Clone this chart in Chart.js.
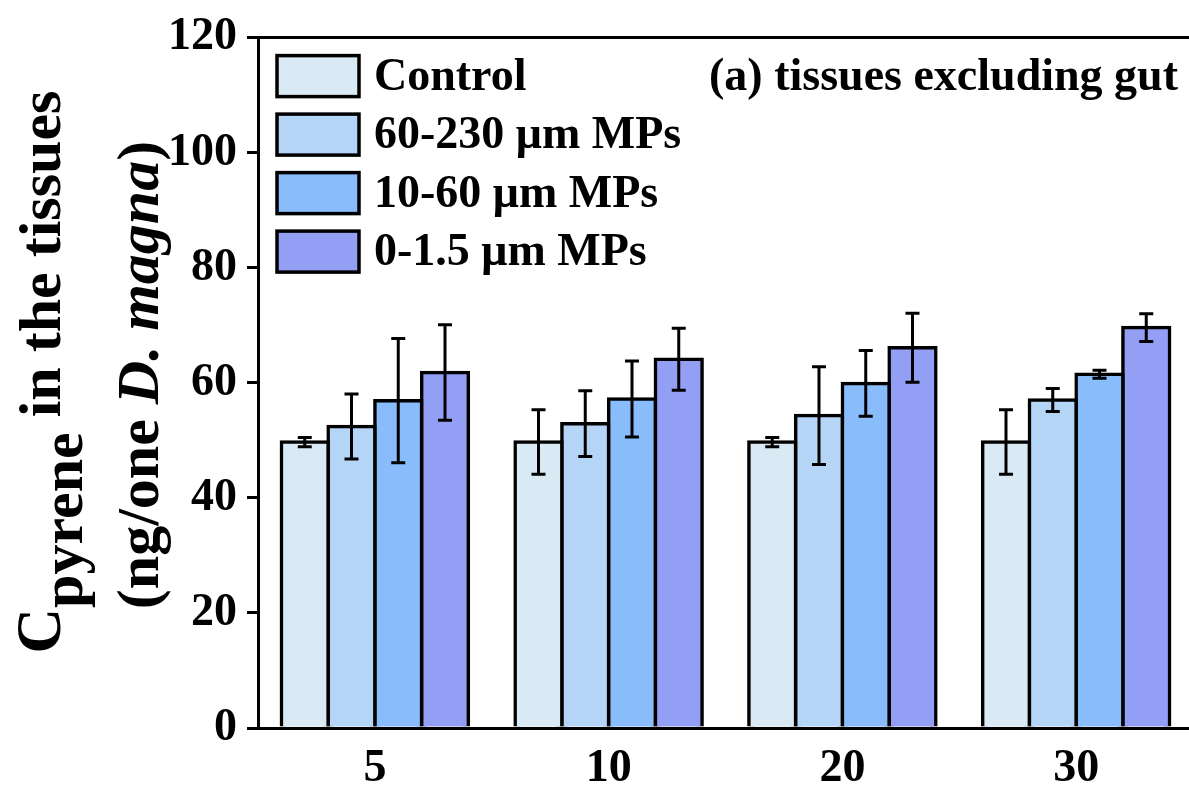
<!DOCTYPE html>
<html><head><meta charset="utf-8">
<script src="https://cdn.jsdelivr.net/npm/chart.js@4"></script>
<style>html,body{margin:0;padding:0;background:#fff;overflow:hidden;width:1189px;height:789px}canvas{display:block}</style>
</head><body>
<canvas id="c" width="1200" height="789"></canvas>
<script>
const categories = ['5', '10', '20', '30'];
const seriesLabels = ['Control', '60-230 μm MPs', '10-60 μm MPs', '0-1.5 μm MPs'];
const controlValues = [49.7, 49.7, 49.7, 49.7];
const mp60to230Values = [52.4, 52.9, 54.3, 57.0];
const mp10to60Values = [56.9, 57.2, 59.9, 61.5];
const mp0to15Values = [61.8, 64.1, 66.1, 69.6];
const controlErrors = [0.8, 5.6, 0.8, 5.6];
const mp60to230Errors = [5.65, 5.7, 8.5, 2.0];
const mp10to60Errors = [10.8, 6.6, 5.7, 0.7];
const mp0to15Errors = [8.3, 5.4, 6.0, 2.4];
const yTickValues = [0, 20, 40, 60, 80, 100, 120];
const panelTitle = '(a) tissues excluding gut';

const seriesValues = [controlValues, mp60to230Values, mp10to60Values, mp0to15Values];
const seriesErrors = [controlErrors, mp60to230Errors, mp10to60Errors, mp0to15Errors];
const seriesColors = ['#d9eaf4', '#b5d5f6', '#88bcfb', '#939ff4'];
const FONT = "'Liberation Serif','Times New Roman',serif";

const errorBars = {
  id: 'errorBars',
  afterDatasetsDraw(chart) {
    const ctx = chart.ctx, y = chart.scales.y;
    ctx.save();
    ctx.strokeStyle = '#000';
    ctx.lineWidth = 3;
    chart.data.datasets.forEach((ds, i) => {
      const meta = chart.getDatasetMeta(i);
      meta.data.forEach((bar, j) => {
        const v = ds.data[j], e = ds.errors[j];
        const x = bar.x, yt = y.getPixelForValue(v + e), yb = y.getPixelForValue(v - e);
        const cap = 7;
        ctx.beginPath();
        ctx.moveTo(x, yt); ctx.lineTo(x, yb);
        ctx.moveTo(x - cap, yt); ctx.lineTo(x + cap, yt);
        ctx.moveTo(x - cap, yb); ctx.lineTo(x + cap, yb);
        ctx.stroke();
      });
    });
    ctx.restore();
  }
};

const customLegend = {
  id: 'customLegend',
  afterDraw(chart) {
    const ctx = chart.ctx, a = chart.chartArea;
    ctx.save();
    const bx = a.left + 19, by = a.top + 18, bw = 82, bh = 41, step = 58.5;
    ctx.font = 'bold 46px ' + FONT;
    ctx.textBaseline = 'alphabetic';
    ctx.textAlign = 'left';
    chart.data.datasets.forEach((ds, i) => {
      const top = by + i * step;
      ctx.fillStyle = ds.backgroundColor;
      ctx.fillRect(bx, top, bw, bh);
      ctx.lineWidth = 3.5;
      ctx.strokeStyle = '#000';
      ctx.strokeRect(bx, top, bw, bh);
      ctx.fillStyle = '#000';
      ctx.fillText(ds.label, bx + bw + 15, top + 34);
    });
    ctx.textAlign = 'right';
    ctx.fillText(panelTitle, 1178, 90);
    ctx.restore();
  }
};

const yTitle = {
  id: 'yTitle',
  afterDraw(chart) {
    const ctx = chart.ctx;
    ctx.save();
    ctx.fillStyle = '#000';
    ctx.textBaseline = 'alphabetic';
    ctx.textAlign = 'left';
    const f = (s, it) => (it ? 'italic ' : '') + 'bold ' + s + 'px ' + FONT;
    function drawLine(segs, centerY) {
      let total = 0;
      segs.forEach(s => { ctx.font = s.font; s.w = ctx.measureText(s.t).width; total += s.w; });
      ctx.save();
      ctx.translate(0, centerY);
      ctx.rotate(-Math.PI / 2);
      let u = -total / 2;
      segs.forEach(s => { ctx.font = s.font; ctx.fillText(s.t, u, s.base); u += s.w; });
      ctx.restore();
    }
    drawLine([
      {t: 'C', font: f(63), base: 60},
      {t: 'pyrene', font: f(60), base: 82},
      {t: ' in the tissues', font: f(60), base: 60}
    ], 372);
    drawLine([
      {t: '(ng/one ', font: f(60), base: 158},
      {t: 'D. magna', font: f(60, true), base: 158},
      {t: ')', font: f(60), base: 158}
    ], 375);
    ctx.restore();
  }
};

const tickFont = {family: FONT, size: 46, weight: 'bold'};

new Chart(document.getElementById('c'), {
  type: 'bar',
  data: {
    labels: categories,
    datasets: seriesLabels.map((label, i) => ({
      label,
      data: seriesValues[i],
      errors: seriesErrors[i],
      backgroundColor: seriesColors[i],
      borderColor: '#000',
      borderWidth: 3.5,
      borderSkipped: 'start',
      inflateAmount: 1.75,
      categoryPercentage: 0.8,
      barPercentage: 1.0
    }))
  },
  options: {
    responsive: false,
    animation: false,
    devicePixelRatio: 1,
    layout: {padding: {left: 150, right: 7, top: 0, bottom: 0}},
    plugins: {legend: {display: false}, tooltip: {enabled: false}, title: {display: false}},
    scales: {
      x: {
        type: 'category',
        position: 'bottom',
        grid: {display: false, drawTicks: false},
        border: {display: true, color: '#000', width: 3},
        ticks: {font: tickFont, color: '#000', padding: 14},
        afterFit: s => { s.height = 61; }
      },
      x2: {
        type: 'category',
        position: 'top',
        grid: {display: false, drawTicks: false},
        border: {display: true, color: '#000', width: 3},
        ticks: {display: false},
        afterFit: s => { s.height = 33; }
      },
      y: {
        min: 0, max: 120,
        afterBuildTicks: s => { s.ticks = yTickValues.map(v => ({value: v})); },
        grid: {display: true, drawOnChartArea: false, drawTicks: true, tickLength: 11, color: '#000', lineWidth: 3},
        border: {display: true, color: '#000', width: 3},
        ticks: {font: tickFont, color: '#000', padding: 10},
        afterFit: s => { s.width = 108; }
      }
    }
  },
  plugins: [errorBars, customLegend, yTitle]
});
</script>
</body></html>
